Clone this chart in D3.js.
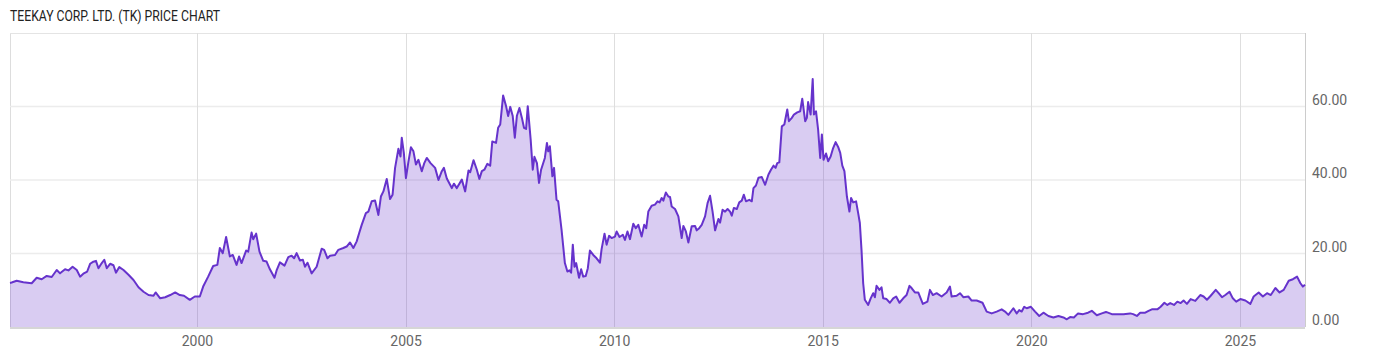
<!DOCTYPE html>
<html>
<head>
<meta charset="utf-8">
<script src="https://cdnjs.cloudflare.com/ajax/libs/d3/7.8.5/d3.min.js"></script>
<style>
  body { margin: 0; background: #fff; }
  svg { display: block; font-family: Roboto, "Noto Sans", sans-serif; }
</style>
</head>
<body>
<svg id="chart" width="1400" height="357"></svg>
<script>
var chartTitle = "TEEKAY CORP. LTD. (TK) PRICE CHART";

// decimal years
var years = [
  1995.52, 1995.56, 1995.68, 1995.84, 1996.04, 1996.16, 1996.28, 1996.40, 1996.52, 1996.64,
  1996.72, 1996.84, 1996.92, 1997.02, 1997.12, 1997.20, 1997.29, 1997.37, 1997.44, 1997.52,
  1997.58, 1997.64, 1997.72, 1997.78, 1997.84, 1997.92, 1998.00, 1998.06, 1998.14, 1998.24,
  1998.36, 1998.48, 1998.60, 1998.72, 1998.84, 1998.96, 1999.01, 1999.12, 1999.24, 1999.36,
  1999.48, 1999.59, 1999.69, 1999.83, 1999.95, 2000.07, 2000.15, 2000.27, 2000.39, 2000.49,
  2000.55, 2000.62, 2000.70, 2000.79, 2000.86, 2000.95, 2001.01, 2001.07, 2001.18, 2001.23,
  2001.31, 2001.35, 2001.42, 2001.50, 2001.59, 2001.67, 2001.75, 2001.86, 2001.91, 2001.99,
  2002.10, 2002.19, 2002.27, 2002.33, 2002.39, 2002.47, 2002.54, 2002.59, 2002.65, 2002.75,
  2002.87, 2002.99, 2003.05, 2003.13, 2003.19, 2003.31, 2003.39, 2003.51, 2003.59, 2003.67,
  2003.75, 2003.83, 2003.89, 2003.95, 2004.05, 2004.11, 2004.19, 2004.27, 2004.35, 2004.41,
  2004.47, 2004.55, 2004.63, 2004.69, 2004.75, 2004.83, 2004.88, 2004.91, 2004.96, 2005.01,
  2005.07, 2005.13, 2005.19, 2005.25, 2005.31, 2005.39, 2005.45, 2005.51, 2005.60, 2005.71,
  2005.79, 2005.87, 2005.92, 2005.99, 2006.11, 2006.16, 2006.23, 2006.35, 2006.43, 2006.51,
  2006.55, 2006.63, 2006.71, 2006.77, 2006.83, 2006.89, 2006.96, 2007.03, 2007.08, 2007.17,
  2007.22, 2007.27, 2007.34, 2007.41, 2007.46, 2007.51, 2007.57, 2007.62, 2007.67, 2007.73,
  2007.79, 2007.84, 2007.89, 2007.93, 2008.00, 2008.05, 2008.09, 2008.15, 2008.20, 2008.25,
  2008.34, 2008.39, 2008.42, 2008.46, 2008.52, 2008.56, 2008.62, 2008.66, 2008.74, 2008.82,
  2008.88, 2008.93, 2008.97, 2009.01, 2009.05, 2009.09, 2009.16, 2009.21, 2009.26, 2009.32,
  2009.37, 2009.42, 2009.50, 2009.58, 2009.66, 2009.70, 2009.77, 2009.82, 2009.88, 2009.94,
  2010.02, 2010.06, 2010.13, 2010.21, 2010.26, 2010.32, 2010.38, 2010.46, 2010.52, 2010.58,
  2010.66, 2010.72, 2010.77, 2010.82, 2010.90, 2010.98, 2011.04, 2011.09, 2011.14, 2011.18,
  2011.24, 2011.30, 2011.34, 2011.38, 2011.46, 2011.54, 2011.62, 2011.66, 2011.72, 2011.78,
  2011.86, 2011.94, 2011.98, 2012.04, 2012.10, 2012.18, 2012.24, 2012.30, 2012.36, 2012.42,
  2012.50, 2012.54, 2012.60, 2012.66, 2012.72, 2012.78, 2012.82, 2012.87, 2012.94, 2013.00,
  2013.06, 2013.11, 2013.16, 2013.24, 2013.30, 2013.34, 2013.40, 2013.46, 2013.54, 2013.62,
  2013.70, 2013.76, 2013.82, 2013.87, 2013.91, 2013.96, 2014.02, 2014.08, 2014.15, 2014.19,
  2014.26, 2014.31, 2014.39, 2014.46, 2014.51, 2014.58, 2014.62, 2014.65, 2014.71, 2014.76,
  2014.79, 2014.84, 2014.89, 2014.94, 2014.98, 2015.02, 2015.08, 2015.13, 2015.19, 2015.25,
  2015.31, 2015.37, 2015.42, 2015.47, 2015.52, 2015.58, 2015.64, 2015.68, 2015.73, 2015.80,
  2015.85, 2015.89, 2015.93, 2015.97, 2016.01, 2016.09, 2016.15, 2016.21, 2016.25, 2016.29,
  2016.36, 2016.41, 2016.45, 2016.53, 2016.61, 2016.69, 2016.76, 2016.84, 2016.93, 2017.01,
  2017.08, 2017.13, 2017.21, 2017.29, 2017.40, 2017.51, 2017.57, 2017.64, 2017.73, 2017.85,
  2017.97, 2018.05, 2018.09, 2018.21, 2018.29, 2018.37, 2018.49, 2018.57, 2018.69, 2018.83,
  2018.93, 2019.05, 2019.17, 2019.29, 2019.37, 2019.45, 2019.57, 2019.65, 2019.71, 2019.77,
  2019.83, 2019.89, 2019.99, 2020.09, 2020.19, 2020.29, 2020.41, 2020.53, 2020.65, 2020.77,
  2020.85, 2020.93, 2021.02, 2021.12, 2021.24, 2021.36, 2021.45, 2021.57, 2021.69, 2021.79,
  2021.93, 2022.05, 2022.21, 2022.37, 2022.44, 2022.53, 2022.61, 2022.73, 2022.81, 2022.89,
  2023.02, 2023.10, 2023.19, 2023.26, 2023.33, 2023.42, 2023.50, 2023.58, 2023.65, 2023.73,
  2023.82, 2023.93, 2024.05, 2024.13, 2024.21, 2024.30, 2024.42, 2024.49, 2024.57, 2024.65,
  2024.75, 2024.83, 2024.91, 2025.01, 2025.13, 2025.25, 2025.33, 2025.45, 2025.55, 2025.65,
  2025.74, 2025.85, 2025.95, 2026.05, 2026.17, 2026.27, 2026.37, 2026.45, 2026.51, 2026.56
];

var prices = [
  12.0, 12.1, 12.6, 12.2, 11.9, 13.4, 13.0, 13.9, 13.6, 15.5,
  14.6, 15.7, 15.4, 16.4, 15.5, 13.7, 14.6, 15.1, 17.2, 17.8,
  18.0, 16.0, 17.4, 18.3, 16.0, 17.2, 16.8, 14.8, 16.3, 15.5,
  14.2, 12.8, 10.8, 9.6, 8.7, 8.5, 9.4, 7.8, 8.1, 8.7,
  9.4, 8.7, 8.5, 7.4, 8.3, 8.3, 11.0, 13.7, 16.6, 16.9,
  21.5, 20.1, 24.5, 19.2, 19.6, 16.9, 19.2, 17.4, 20.8, 20.5,
  25.7, 23.9, 25.4, 20.5, 18.0, 17.8, 15.7, 13.4, 15.4, 17.6,
  16.7, 19.0, 19.4, 18.7, 20.1, 18.1, 18.3, 16.4, 17.5, 14.6,
  16.4, 21.3, 21.0, 18.7, 19.4, 19.6, 21.0, 21.5, 21.9, 23.0,
  21.5, 23.3, 25.6, 27.8, 31.0, 31.4, 34.2, 34.4, 30.5, 35.5,
  36.9, 40.3, 34.8, 36.0, 43.3, 48.5, 46.4, 51.5, 47.4, 40.5,
  45.0, 48.9, 47.8, 44.2, 45.5, 42.4, 44.6, 46.0, 44.6, 43.3,
  40.0, 42.4, 43.3, 40.4, 37.8, 39.0, 37.8, 40.1, 36.9, 42.6,
  42.1, 45.4, 42.8, 40.3, 42.4, 42.8, 44.4, 43.9, 50.5, 50.1,
  54.2, 55.1, 63.0, 60.1, 57.4, 59.9, 57.4, 51.5, 57.5, 59.6,
  56.9, 54.2, 53.9, 60.1, 51.0, 42.8, 46.3, 44.6, 39.2, 42.8,
  46.0, 50.1, 47.8, 49.2, 41.0, 43.3, 34.6, 34.2, 26.5, 17.4,
  15.1, 15.4, 14.8, 22.4, 16.4, 17.4, 13.4, 15.7, 13.7, 13.9,
  16.0, 20.8, 19.6, 18.7, 17.5, 21.2, 25.4, 22.4, 24.8, 24.2,
  24.6, 26.0, 24.5, 25.1, 23.7, 26.0, 23.9, 28.1, 26.9, 27.8,
  24.6, 27.8, 26.9, 31.4, 33.0, 33.3, 34.2, 33.9, 35.1, 34.4,
  36.6, 35.5, 35.4, 32.8, 32.1, 30.1, 24.2, 27.5, 26.0, 23.0,
  27.4, 27.5, 26.3, 26.9, 27.8, 30.1, 33.7, 35.7, 31.4, 26.3,
  29.4, 28.4, 31.9, 31.4, 32.1, 31.4, 30.3, 32.4, 32.1, 33.9,
  34.4, 36.0, 34.2, 34.6, 34.2, 37.8, 38.5, 40.6, 40.8, 38.7,
  41.5, 42.8, 43.9, 43.3, 44.6, 44.8, 54.6, 55.1, 59.2, 56.0,
  56.9, 57.8, 58.4, 58.7, 62.1, 56.0, 56.9, 61.2, 57.8, 67.5,
  57.8, 58.7, 53.7, 46.0, 52.4, 45.5, 47.2, 45.1, 46.4, 48.7,
  50.3, 49.0, 47.4, 43.9, 42.4, 35.5, 31.4, 35.1, 33.9, 34.2,
  31.0, 28.3, 21.0, 11.9, 7.4, 6.0, 7.8, 9.2, 8.1, 11.2,
  10.1, 10.8, 7.8, 7.6, 6.6, 7.8, 8.3, 6.6, 7.8, 8.7,
  11.2, 10.6, 9.4, 9.4, 6.3, 6.9, 10.1, 8.7, 9.2, 8.3,
  9.4, 11.0, 8.3, 8.5, 9.2, 8.1, 8.3, 7.2, 7.2, 6.6,
  4.2, 3.7, 4.2, 4.8, 4.2, 3.3, 5.1, 3.7, 4.6, 4.2,
  5.5, 5.1, 5.5, 4.2, 3.0, 3.9, 3.0, 2.6, 3.0, 2.6,
  2.1, 2.7, 2.6, 3.7, 3.5, 3.9, 4.4, 3.2, 3.7, 4.1,
  3.5, 3.5, 3.5, 3.7, 3.5, 3.0, 3.9, 3.9, 4.4, 4.8,
  4.8, 5.5, 6.6, 6.0, 6.5, 6.0, 6.9, 6.5, 7.2, 6.3,
  7.6, 7.1, 8.7, 8.3, 7.4, 8.5, 10.1, 9.2, 8.1, 8.7,
  9.6, 7.8, 6.9, 7.6, 7.2, 6.3, 8.3, 9.4, 8.3, 9.2,
  8.7, 10.6, 9.4, 10.1, 12.6, 13.0, 13.7, 11.9, 11.0, 11.5
];

var yearTicks = [2000, 2005, 2010, 2015, 2020, 2025];
var priceTicks = [0, 20, 40, 60];

var svg = d3.select('#chart');
var plotLeft = 10, plotRight = 1305, plotTop = 33, plotBottom = 327;

var x = d3.scaleLinear().domain([1995.52, 2026.56]).range([plotLeft, plotRight]);
var y = d3.scaleLinear().domain([0, 80]).range([plotBottom, plotTop]);

var data = years.map(function(d, i) { return { t: d, v: prices[i] }; });

// frame
svg.append("line").attr("x1", plotLeft + 0.5).attr("x2", plotLeft + 0.5).attr("y1", plotTop).attr("y2", plotBottom)
    .attr("stroke", "#ddd");
svg.append("line").attr("x1", plotLeft).attr("x2", plotRight).attr("y1", plotTop + 0.5).attr("y2", plotTop + 0.5)
    .attr("stroke", "#e4e4e4");
svg.append("line").attr("x1", plotRight + 0.5).attr("x2", plotRight + 0.5).attr("y1", plotTop).attr("y2", plotBottom)
    .attr("stroke", "#ccc");

// grid lines
svg.append("g").selectAll("line")
    .data(priceTicks.filter(function(d) { return d > 0; }))
    .enter().append("line")
        .attr("x1", plotLeft).attr("x2", plotRight)
        .attr("y1", function(d) { return y(d); })
        .attr("y2", function(d) { return y(d); })
        .attr("stroke", "#ececec")
        .attr("stroke-width", 1.5);

svg.append("g").selectAll("line")
    .data(yearTicks)
    .enter().append("line")
        .attr("x1", function(d) { return Math.round(x(d)) + 0.5; })
        .attr("x2", function(d) { return Math.round(x(d)) + 0.5; })
        .attr("y1", plotTop).attr("y2", plotBottom)
        .attr("stroke", "#dedede");

// area + line
var area = d3.area()
    .x(function(d) { return x(d.t); })
    .y0(plotBottom)
    .y1(function(d) { return y(d.v); });

var line = d3.line()
    .x(function(d) { return x(d.t); })
    .y(function(d) { return y(d.v); });

svg.append("path")
    .datum(data)
    .attr("fill", "rgba(102,51,204,0.25)")
    .attr("d", area);

svg.append("path")
    .datum(data)
    .attr("fill", "none")
    .attr("stroke", "#6633cc")
    .attr("stroke-width", 2)
    .attr("stroke-linejoin", "round")
    .attr("d", line);

// bottom axis
var xAxis = d3.axisBottom(x).tickValues(yearTicks).tickFormat(d3.format("d")).tickSize(0).tickPadding(9);
var gx = svg.append("g").attr("transform", "translate(0," + plotBottom + ")").call(xAxis);
gx.select(".domain").remove();
gx.selectAll("text").attr("fill", "#666").attr("font-size", 14)
    .attr("font-family", "Roboto, sans-serif");
svg.append("line").attr("x1", plotLeft).attr("x2", plotRight).attr("y1", plotBottom + 1).attr("y2", plotBottom + 1)
    .attr("stroke", "#d6d6d6").attr("stroke-width", 2);

// right axis
var yAxis = d3.axisRight(y).tickValues(priceTicks).tickFormat(d3.format(".2f")).tickSize(0).tickPadding(7);
var gy = svg.append("g").attr("transform", "translate(" + plotRight + ",0)").call(yAxis);
gy.select(".domain").remove();
gy.selectAll("text").attr("fill", "#666").attr("font-size", 14)
    .attr("font-family", "Roboto, sans-serif")
    .attr("dy", "-0.15em");

// title
svg.append("text")
    .attr("x", 10)
    .attr("y", 21)
    .attr("font-size", 14)
    .attr("fill", "#222")
    .attr("textLength", 210)
    .attr("lengthAdjust", "spacingAndGlyphs")
    .text(chartTitle);
</script>
</body>
</html>
